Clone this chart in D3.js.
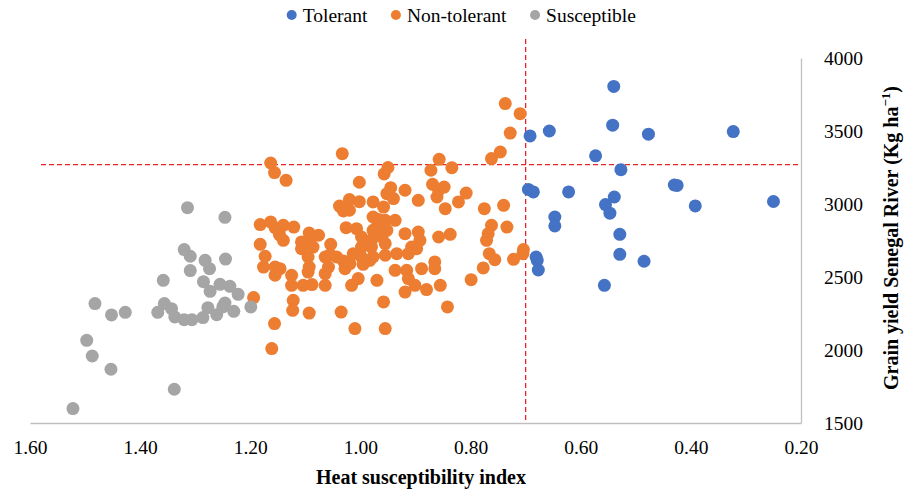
<!DOCTYPE html>
<html>
<head>
<meta charset="utf-8">
<script src="https://cdn.jsdelivr.net/npm/d3@7"></script>
<style>
  body { margin: 0; background: #fff; }
  svg { display: block; }
</style>
</head>
<body>
<svg id="chart" width="904" height="491"></svg>
<script>
// series: [heat susceptibility index, grain yield]
const tolerant = [
  [0.540, 3805], [0.542, 3540], [0.657, 3500], [0.692, 3466], [0.477, 3478], [0.323, 3496],
  [0.573, 3330], [0.527, 3235], [0.430, 3130], [0.425, 3127], [0.695, 3100], [0.686, 3083],
  [0.622, 3083], [0.250, 3017], [0.392, 2987], [0.539, 3048], [0.555, 2996], [0.547, 2937],
  [0.647, 2911], [0.647, 2850], [0.529, 2792], [0.529, 2655], [0.485, 2608], [0.681, 2637],
  [0.679, 2614], [0.677, 2548], [0.557, 2443]
];

const nonTolerant = [
  [1.163, 3281], [1.156, 3215], [1.135, 3162], [1.033, 3345], [1.002, 3149], [0.957, 3206],
  [1.038, 2986], [1.031, 2952], [1.020, 3030], [1.002, 3016], [1.020, 2957], [0.977, 3014],
  [0.958, 2979], [0.952, 3071], [1.182, 2859], [1.163, 2877], [1.155, 2838], [1.140, 2854],
  [1.121, 2842], [1.147, 2790], [1.140, 2751], [1.093, 2801], [1.076, 2786], [1.107, 2740],
  [1.092, 2740], [1.054, 2724], [1.182, 2724], [1.026, 2838], [1.007, 2831], [0.998, 2774],
  [0.977, 2911], [0.970, 2842], [0.961, 2774], [0.980, 2751], [0.955, 2888], [0.967, 2893],
  [0.977, 2820], [1.173, 2642], [1.176, 2568], [1.155, 2568], [1.146, 2557], [1.155, 2512],
  [1.125, 2512], [1.125, 2443], [1.104, 2443], [1.088, 2448], [1.095, 2637], [1.093, 2568],
  [1.095, 2534], [1.064, 2637], [1.058, 2568], [1.064, 2523], [1.064, 2443], [1.055, 2652],
  [1.043, 2637], [1.031, 2610], [1.028, 2557], [1.019, 2592], [0.998, 2637], [0.995, 2587],
  [0.983, 2614], [0.977, 2637], [0.955, 2649], [1.004, 2489], [1.016, 2443], [0.970, 2477],
  [1.122, 2340], [1.123, 2272], [1.093, 2253], [1.035, 2260], [1.194, 2359], [1.156, 2181],
  [1.161, 2010], [1.010, 2147], [0.955, 2147], [0.958, 2329], [1.107, 2694], [1.086, 2705],
  [0.998, 2705], [0.980, 2705], [0.955, 2729], [1.013, 2660], [0.737, 3688], [0.710, 3619],
  [0.728, 3486], [0.746, 3356], [0.762, 3311], [0.857, 3306], [0.834, 3249], [0.872, 3231],
  [0.950, 3250], [0.945, 3112], [0.940, 3037], [0.919, 3094], [0.895, 3025], [0.869, 3135],
  [0.848, 3116], [0.861, 3048], [0.858, 3094], [0.808, 3075], [0.822, 3014], [0.846, 2968],
  [0.775, 2968], [0.740, 2991], [0.937, 2888], [0.952, 2820], [0.919, 2797], [0.895, 2808],
  [0.892, 2751], [0.858, 2774], [0.837, 2792], [0.762, 2854], [0.734, 2842], [0.768, 2797],
  [0.771, 2751], [0.704, 2688], [0.907, 2705], [0.934, 2660], [0.913, 2660], [0.898, 2694],
  [0.937, 2546], [0.916, 2546], [0.889, 2557], [0.865, 2603], [0.865, 2557], [0.913, 2489],
  [0.901, 2443], [0.919, 2397], [0.880, 2414], [0.855, 2443], [0.842, 2295], [0.799, 2482],
  [0.777, 2562], [0.766, 2660], [0.756, 2619], [0.722, 2621], [0.705, 2660]
];

const susceptible = [
  [1.314, 2975], [1.246, 2909], [1.320, 2688], [1.309, 2642], [1.282, 2614], [1.245, 2623],
  [1.274, 2557], [1.309, 2544], [1.358, 2477], [1.285, 2468], [1.255, 2450], [1.237, 2436],
  [1.273, 2402], [1.222, 2381], [1.482, 2318], [1.452, 2240], [1.427, 2258], [1.368, 2258],
  [1.356, 2318], [1.343, 2283], [1.337, 2226], [1.320, 2208], [1.306, 2208], [1.286, 2222],
  [1.277, 2290], [1.261, 2242], [1.250, 2295], [1.246, 2322], [1.230, 2265], [1.199, 2295],
  [1.497, 2066], [1.487, 1959], [1.453, 1868], [1.338, 1731], [1.522, 1599]
];

const seriesNames = ["Tolerant", "Non-tolerant", "Susceptible"];
const seriesColors = ["#4472C4", "#ED7D31", "#A5A5A5"];
const xTicks = [1.6, 1.4, 1.2, 1.0, 0.8, 0.6, 0.4, 0.2];
const yTicks = [1500, 2000, 2500, 3000, 3500, 4000];

// threshold lines (data units)
const hsiCut = 0.70;
const yieldCut = 3270;

const serif = "'Liberation Serif', 'Times New Roman', Times, serif";

const svg = d3.select("#chart");
const x = d3.scaleLinear().domain([1.6, 0.2]).range([30, 801]);
const y = d3.scaleLinear().domain([1500, 4000]).range([423, 58]);

// x axis
const xAxis = svg.append("g")
  .attr("transform", `translate(0,${y(1500)})`)
  .call(d3.axisBottom(x).tickValues(xTicks).tickSize(0).tickPadding(17).tickFormat(d3.format(".2f")));
xAxis.select(".domain").attr("stroke", "#bfbfbf").attr("stroke-width", 1.3);
xAxis.selectAll("text").attr("fill", "#000")
  .style("font-family", serif).style("font-size", "19.5px");

// y axis on the right
const yAxis = svg.append("g")
  .attr("transform", `translate(${x(0.2)},0)`)
  .call(d3.axisRight(y).tickValues(yTicks).tickSize(0).tickPadding(23).tickFormat(d3.format("d")));
yAxis.select(".domain").attr("stroke", "#bfbfbf").attr("stroke-width", 1.3);
yAxis.selectAll("text").attr("fill", "#000")
  .style("font-family", serif).style("font-size", "19.5px");

// dashed reference lines
svg.append("line")
  .attr("x1", x(hsiCut)).attr("x2", x(hsiCut))
  .attr("y1", y(4130)).attr("y2", y(1500))
  .attr("stroke", "#E8262A").attr("stroke-width", 1.3).attr("stroke-dasharray", "5,3");
svg.append("line")
  .attr("x1", x(1.58)).attr("x2", x(0.2))
  .attr("y1", y(yieldCut)).attr("y2", y(yieldCut))
  .attr("stroke", "#E8262A").attr("stroke-width", 1.3).attr("stroke-dasharray", "5,3");

// points
[tolerant, nonTolerant, susceptible].forEach((pts, i) => {
  svg.append("g").selectAll("circle")
    .data(pts)
    .enter()
    .append("circle")
    .attr("cx", d => x(d[0]))
    .attr("cy", d => y(d[1]))
    .attr("r", 6.5)
    .attr("fill", seriesColors[i]);
});

// axis titles
svg.append("text")
  .attr("x", 421).attr("y", 484)
  .attr("text-anchor", "middle")
  .style("font-family", serif).style("font-size", "20px").style("font-weight", "bold")
  .text("Heat susceptibility index");

const yTitle = svg.append("text")
  .attr("transform", "translate(898,238) rotate(-90)")
  .attr("text-anchor", "middle")
  .style("font-family", serif).style("font-size", "20px").style("font-weight", "bold");
yTitle.append("tspan").text("Grain yield Senegal River (Kg ha");
yTitle.append("tspan").style("font-size", "13px").attr("dy", "-8").text("\u22121");
yTitle.append("tspan").attr("dy", "8").text(")");

// legend
let lx = 291.7;
seriesNames.forEach((name, i) => {
  svg.append("circle").attr("cx", lx).attr("cy", 15).attr("r", 5).attr("fill", seriesColors[i]);
  const t = svg.append("text")
    .attr("x", lx + 11).attr("y", 21.5)
    .attr("fill", "#000")
    .style("font-family", serif).style("font-size", "19.5px")
    .text(name);
  lx += 11 + t.node().getComputedTextLength() + 28.5;
});
</script>
</body>
</html>
